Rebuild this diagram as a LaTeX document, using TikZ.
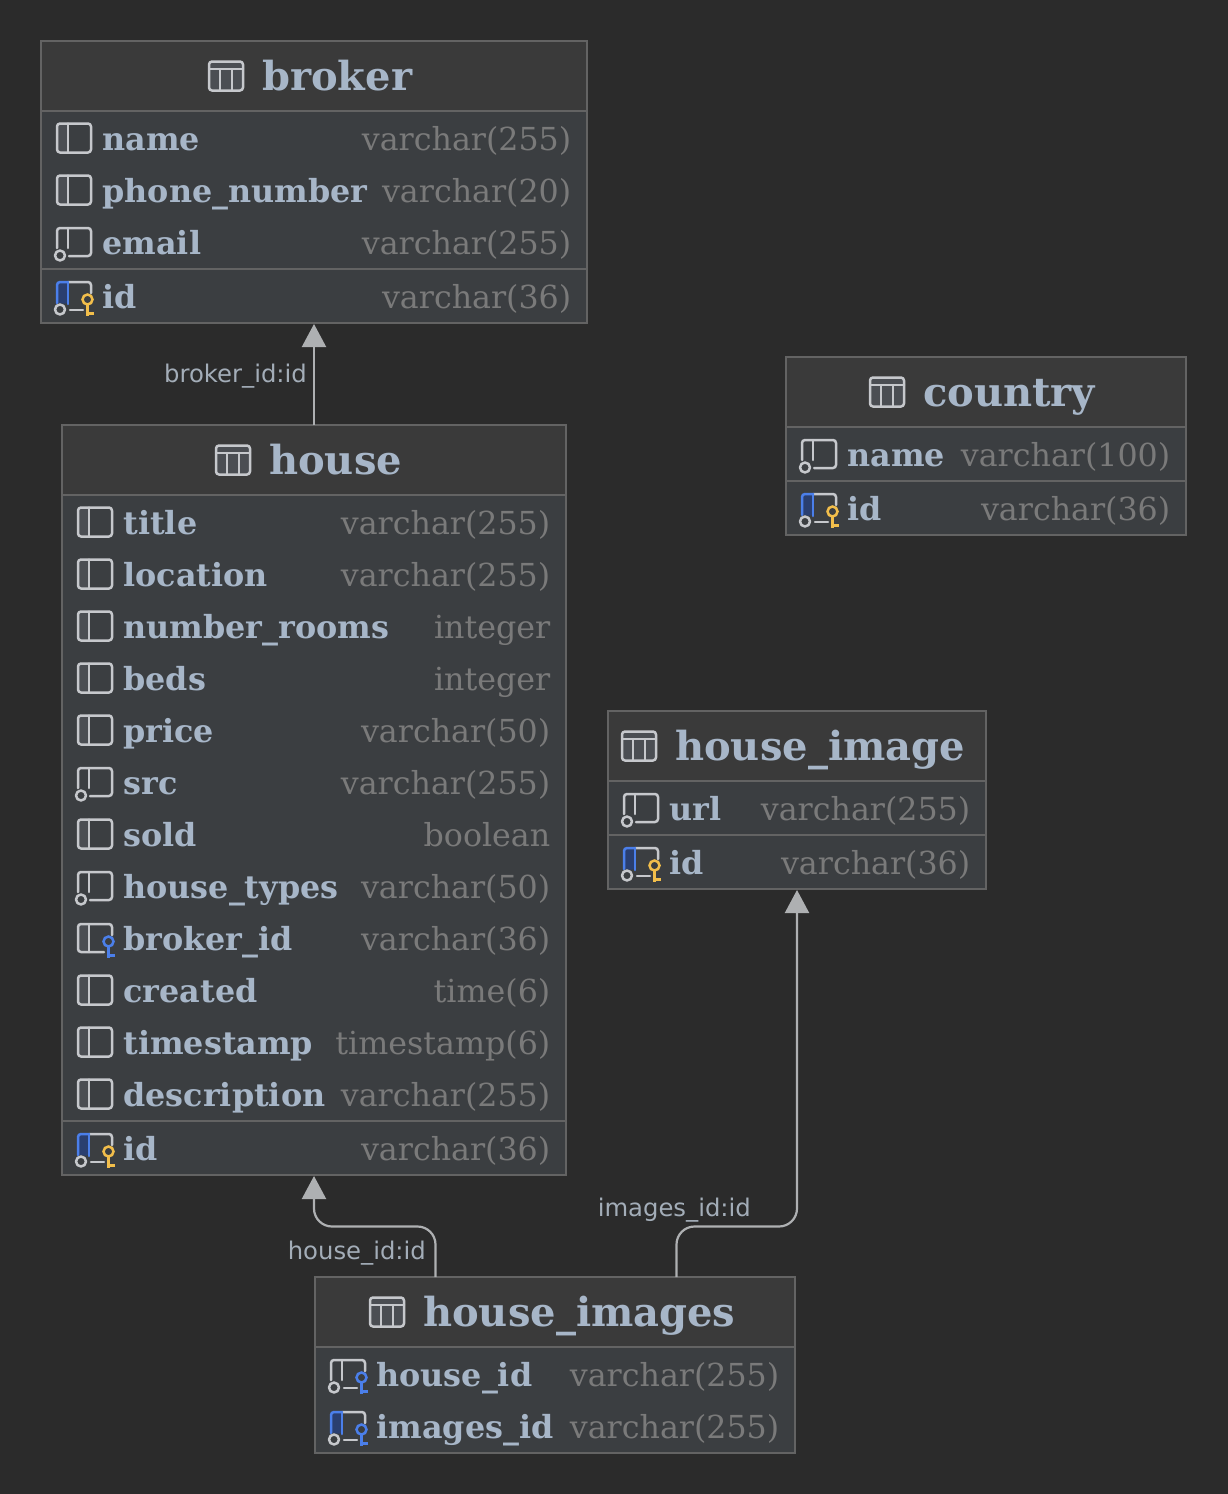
\documentclass[tikz,border=0pt]{standalone}
\usepackage{fontspec}
\setmainfont{DejaVu Serif}
\newfontfamily\lblfont{DejaVu Sans}
\usetikzlibrary{arrows.meta}
\definecolor{canvas}{HTML}{2B2B2B}
\definecolor{headfill}{HTML}{3A3A3A}
\definecolor{rowfill}{HTML}{3B3E41}
\definecolor{edgeline}{HTML}{636363}
\definecolor{nametext}{HTML}{A7B6C8}
\definecolor{typetext}{HTML}{7A7A7A}
\definecolor{labeltext}{HTML}{A3ADB8}
\definecolor{icongray}{HTML}{C6C8CC}
\definecolor{iconfill}{HTML}{4B4E53}
\definecolor{iconblue}{HTML}{4B7FEA}
\definecolor{bluefill}{HTML}{2A3F70}
\definecolor{keyyellow}{HTML}{F2BE4B}
\definecolor{arrowgray}{HTML}{AEB0B2}
\tikzset{
  x=1pt,y=-1pt,
  tablebox/.style={draw=edgeline,line width=1.5pt,fill=rowfill,inner sep=0pt,outer sep=0pt},
  rule/.style={draw=edgeline,line width=2pt},
  titletext/.style={font=\fontsize{40}{44}\selectfont\bfseries,text=nametext,anchor=base west,inner sep=0pt},
  colname/.style={font=\fontsize{31.8}{36}\selectfont\bfseries,text=nametext,anchor=base west,inner sep=0pt},
  coltype/.style={font=\fontsize{31.7}{36}\selectfont,text=typetext,anchor=base east,inner sep=0pt},
  edgelabel/.style={font=\lblfont\fontsize{24.3}{28}\selectfont,text=labeltext,anchor=base east,inner sep=0pt},
  relation/.style={draw=arrowgray,line width=2.2pt,rounded corners=18pt},
  relarrow/.style={relation,-{Triangle[length=23pt,width=24pt,fill=arrowgray]}},
  ic/.style={draw=icongray,line width=2.5pt,line cap=round,line join=round},
  icb/.style={draw=iconblue,line width=2.5pt,line cap=round,line join=round},
  pics/tableicon/.style={code={
    \fill[iconfill] (0,-14.5) rectangle (34,14.5);
    \draw[ic,rounded corners=3pt] (0,-14.5) rectangle (34,14.5);
    \draw[ic] (0,-7) -- (34,-7) (11,-7) -- (11,14.5) (23,-7) -- (23,14.5);
  }},
  pics/colplain/.style={code={
    \fill[iconfill,rounded corners=3pt] (0,-14.5) rectangle (11,14.5);
    \draw[ic,rounded corners=3pt] (0,-14.5) rectangle (34,14.5);
    \draw[ic] (11,-14.5) -- (11,14.5);
  }},
  pics/colnull/.style={code={
    \draw[ic,rounded corners=3pt] (0,6) -- (0,-14) -- (34,-14) -- (34,14) -- (12,14);
    \draw[ic] (11,-14) -- (11,6);
    \draw[ic] (3,13.5) circle (5);
  }},
  pics/keyshape/.style={code={
    \draw[#1] (30.5,3.5) circle (5);
    \draw[#1,line cap=butt] (30.5,8.5) -- (30.5,20) (30.5,17.5) -- (37,17.5);
  }},
  pics/colpk/.style={code={
    \fill[bluefill,rounded corners=3pt] (0,7) -- (0,-14) -- (11,-14) -- (11,8) -- cycle;
    \draw[ic,rounded corners=3pt] (11,-14) -- (34,-14) -- (34,-3);
    \draw[ic] (13,14) -- (26,14);
    \draw[icb,rounded corners=3pt] (0,7) -- (0,-14) -- (11,-14);
    \draw[icb] (11,-14) -- (11,8);
    \draw[ic] (3,13.5) circle (5);
    \pic {keyshape=icy};
  }},
  icy/.style={draw=keyyellow,line width=2.5pt},
  icbk/.style={draw=iconblue,line width=2.5pt},
  pics/colfk/.style={code={
    \fill[iconfill,rounded corners=3pt] (0,-14) rectangle (11,14);
    \draw[ic,rounded corners=3pt] (34,-3) -- (34,-14) -- (0,-14) -- (0,14) -- (26,14);
    \draw[ic] (11,-14) -- (11,14);
    \pic {keyshape=icbk};
  }},
  pics/colfknull/.style={code={
    \draw[ic,rounded corners=3pt] (34,-3) -- (34,-14) -- (0,-14) -- (0,6);
    \draw[ic] (11,-14) -- (11,6) (13,14) -- (26,14);
    \draw[ic] (3,13.5) circle (5);
    \pic {keyshape=icbk};
  }},
  pics/colpkfk/.style={code={
    \fill[bluefill,rounded corners=3pt] (0,7) -- (0,-14) -- (11,-14) -- (11,8) -- cycle;
    \draw[ic,rounded corners=3pt] (11,-14) -- (34,-14) -- (34,-3);
    \draw[ic] (13,14) -- (26,14);
    \draw[icb,rounded corners=3pt] (0,7) -- (0,-14) -- (11,-14);
    \draw[icb] (11,-14) -- (11,8);
    \draw[ic] (3,13.5) circle (5);
    \pic {keyshape=icbk};
  }},
}
% table frame: id, x1, y1, x2, y2, header bottom, icon x, text x, title
\newcommand{\dbtable}[9]{%
  \node[tablebox,minimum width=#4pt-#2pt,minimum height=#5pt-#3pt] (#1) at ({(#2+#4)/2},{(#3+#5)/2}) {};
  \fill[headfill] (#2+1,#3+1) rectangle (#4-1,#6);
  \draw[rule] (#2+1,#6) -- (#4-1,#6);
  \pic at (#7,#3+35) {tableicon};
  \node[titletext] (#1-title) at (#8,#3+49) {#9};
}
\newcounter{rowno}
% left, right, text-centre y, icon kind, name, type
\newcommand{\dbrow}[6]{%
  \stepcounter{rowno}%
  \pic at (#1+16,#3-1) {#4};
  \node[colname] (name-\therowno) at (#1+61.3,#3+11) {#5};
  \node[coltype] (type-\therowno) at (#2-15.5,#3+11) {#6};
}
\begin{document}
\begin{tikzpicture}
\useasboundingbox (0,0) rectangle (1228,1494);
\fill[canvas] (0,0) rectangle (1228,1494);

% broker
\dbtable{broker}{41}{41}{587}{323}{110.5}{209}{262}{broker}
\dbrow{41}{587}{139}{colplain}{name}{varchar(255)}
\dbrow{41}{587}{191}{colplain}{phone\_number}{varchar(20)}
\dbrow{41}{587}{243}{colnull}{email}{varchar(255)}
\draw[rule] (42,269) -- (586,269);
\dbrow{41}{587}{297}{colpk}{id}{varchar(36)}

% country
\dbtable{country}{786}{357}{1186}{535}{427}{870}{923}{country}
\dbrow{786}{1186}{455}{colnull}{name}{varchar(100)}
\draw[rule] (787,481) -- (1185,481);
\dbrow{786}{1186}{509}{colpk}{id}{varchar(36)}

% house
\dbtable{house}{62}{425}{566}{1175}{495}{216}{269}{house}
\dbrow{62}{566}{523}{colplain}{title}{varchar(255)}
\dbrow{62}{566}{575}{colplain}{location}{varchar(255)}
\dbrow{62}{566}{627}{colplain}{number\_rooms}{integer}
\dbrow{62}{566}{679}{colplain}{beds}{integer}
\dbrow{62}{566}{731}{colplain}{price}{varchar(50)}
\dbrow{62}{566}{783}{colnull}{src}{varchar(255)}
\dbrow{62}{566}{835}{colplain}{sold}{boolean}
\dbrow{62}{566}{887}{colnull}{house\_types}{varchar(50)}
\dbrow{62}{566}{939}{colfk}{broker\_id}{varchar(36)}
\dbrow{62}{566}{991}{colplain}{created}{time(6)}
\dbrow{62}{566}{1043}{colplain}{timestamp}{timestamp(6)}
\dbrow{62}{566}{1095}{colplain}{description}{varchar(255)}
\draw[rule] (63,1121) -- (565,1121);
\dbrow{62}{566}{1149}{colpk}{id}{varchar(36)}

% house_image
\dbtable{himage}{608}{711}{986}{889}{781}{622}{675}{house\_image}
\dbrow{608}{986}{809}{colnull}{url}{varchar(255)}
\draw[rule] (609,835) -- (985,835);
\dbrow{608}{986}{863}{colpk}{id}{varchar(36)}

% house_images
\dbtable{himages}{315}{1277}{795}{1453}{1347}{370}{423}{house\_images}
\dbrow{315}{795}{1375}{colfknull}{house\_id}{varchar(255)}
\dbrow{315}{795}{1427}{colpkfk}{images\_id}{varchar(255)}

% connectors
\coordinate (houseTop) at (house.north);
\coordinate (brokerBottom) at (broker.south);
\coordinate (fromHouseId) at (435.5,1277);
\coordinate (toHouse) at (314,1176);
\coordinate (fromImagesId) at (676.5,1277);
\coordinate (toImage) at (797,890);
\draw[relarrow] (houseTop) -- (brokerBottom |- 0,324);
\draw[relarrow] (fromHouseId) -- (435.5,1226.5) -- (314,1226.5) -- (toHouse);
\draw[relarrow] (fromImagesId) -- (676.5,1226.5) -- (797,1226.5) -- (toImage);

% labels
\node[edgelabel] (lblBroker) at (307,382) {broker\_id:id};
\node[edgelabel] (lblHouse) at (426,1259) {house\_id:id};
\node[edgelabel] (lblImages) at (751,1216) {images\_id:id};
\end{tikzpicture}
\end{document}
